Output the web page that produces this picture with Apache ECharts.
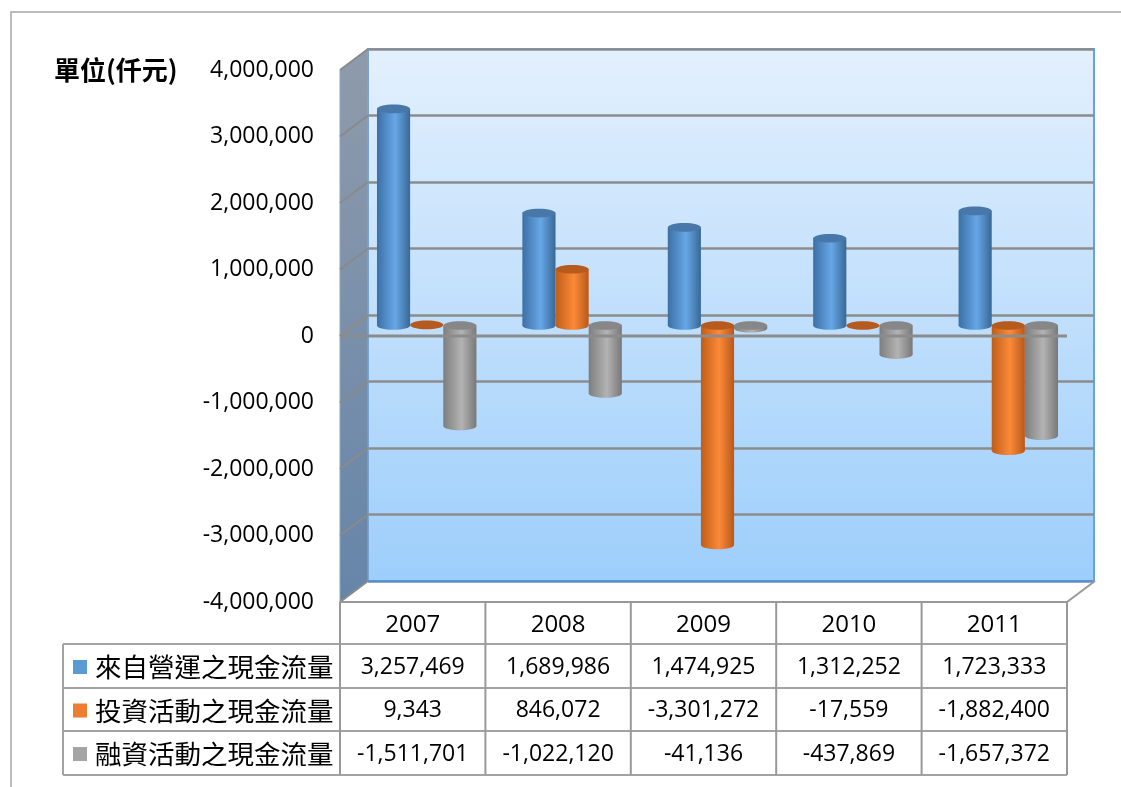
<!DOCTYPE html>
<html><head><meta charset="utf-8">
<style>html,body{margin:0;padding:0;background:#fff}#c{width:1121px;height:787px}</style>
<script src="https://cdn.jsdelivr.net/npm/echarts@6/dist/echarts.min.js"></script>
</head><body><div id="c"></div>
<script>
// ---------- data ----------
const years = ['2007', '2008', '2009', '2010', '2011'];
const seriesNames = ['來自營運之現金流量', '投資活動之現金流量', '融資活動之現金流量'];
const operating = [3257469, 1689986, 1474925, 1312252, 1723333];
const investing = [9343, 846072, -3301272, -17559, -1882400];
const financing = [-1511701, -1022120, -41136, -437869, -1657372];
const yTicks = [-4000000, -3000000, -2000000, -1000000, 0, 1000000, 2000000, 3000000, 4000000];
const unitLabel = '單位(仟元)';

// ---------- layout / style ----------
const F = { left: 340, top: 70, width: 727, height: 532 };   // front plane
const D = { dx: 28, dy: -21 };                               // depth offset
const YMIN = -4000000, YMAX = 4000000, YINT = 1000000;
const LATIN = '"Open Sans", "Noto Sans", sans-serif';
const CJK = '"Noto Sans CJK TC", "Noto Sans CJK SC", sans-serif';
const seriesColors = [
  { l: '#3c6fa6', m: '#67a7e6', r: '#386896', top: '#4878aa', key: '#5b9bd5' },
  { l: '#c05d18', m: '#fb8a38', r: '#b9581a', top: '#b65a1e', key: '#ed7d31' },
  { l: '#7e7e7e', m: '#b3b3b3', r: '#787878', top: '#878787', key: '#a5a5a5' }
];
const allSeries = [operating, investing, financing];
const fmt = v => v.toLocaleString('en-US');

const chart = echarts.init(document.getElementById('c'));

function cylRender(sIdx) {
  const c = seriesColors[sIdx];
  return function (params, api) {
    const cat = api.value(0), val = api.value(1);
    const base = api.coord([cat, 0]);
    const end = api.coord([cat, val]);
    const band = api.size([1, 0])[0];
    const w = band * 0.228;
    const cx = base[0] + (sIdx - 1) * w;
    const rx = w / 2, ry = w * 0.13;
    const yTop = Math.min(base[1], end[1]), yBot = Math.max(base[1], end[1]);
    const grad = new echarts.graphic.LinearGradient(0, 0, 1, 0, [
      { offset: 0, color: c.l }, { offset: 0.55, color: c.m }, { offset: 1, color: c.r }
    ]);
    const children = [];
    if (yBot - yTop > 1.5) {
      children.push({ type: 'ellipse', shape: { cx: cx, cy: yBot, rx: rx, ry: ry }, style: { fill: grad } });
      children.push({ type: 'rect', shape: { x: cx - rx, y: yTop, width: w, height: yBot - yTop }, style: { fill: grad } });
    }
    children.push({ type: 'ellipse', shape: { cx: cx, cy: yTop, rx: rx, ry: ry }, style: { fill: c.top } });
    return { type: 'group', children: children };
  };
}

const catAxis = (gi) => ({ type: 'category', gridIndex: gi, data: years, show: false, boundaryGap: true });
const valAxis = (gi, extra) => Object.assign({
  type: 'value', gridIndex: gi, min: YMIN, max: YMAX, interval: YINT,
  axisLine: { show: false }, axisTick: { show: false }, axisLabel: { show: false }, splitLine: { show: false }
}, extra || {});

const tableTop = F.top + F.height;
const rowEdges = [0, 42, 86, 129, 173].map(v => tableTop + v);
const colW = F.width / 5;
const labelLeft = 63;
const lineCol = '#a3a3a3';

const graphics = [];
// outer border
graphics.push({ type: 'rect', shape: { x: 11, y: 12, width: 1300, height: 900 }, style: { fill: 'none', stroke: '#a6a6a6', lineWidth: 1.5 }, z: 0 });
// side wall
graphics.push({
  type: 'polygon', z: 1,
  shape: { points: [[F.left, F.top], [F.left + D.dx, F.top + D.dy], [F.left + D.dx, F.top + F.height + D.dy], [F.left, F.top + F.height]] },
  style: { fill: new echarts.graphic.LinearGradient(0, 0, 0, 1, [{ offset: 0, color: '#8f9bab' }, { offset: 1, color: '#6585a9' }]), stroke: '#8aa4c0', lineWidth: 1 }
});
// floor right diagonal
graphics.push({ type: 'line', z: 5, shape: { x1: F.left + F.width, y1: tableTop, x2: F.left + F.width + D.dx, y2: tableTop + D.dy }, style: { stroke: '#999', lineWidth: 2 } });
// unit label
graphics.push({ type: 'text', z: 5, x: 54, y: F.top, style: { text: unitLabel, font: 'bold 26px ' + CJK, fill: '#000', verticalAlign: 'middle', align: 'left' } });
// table lines
graphics.push({ type: 'line', z: 5, shape: { x1: F.left, y1: rowEdges[0], x2: F.left + F.width, y2: rowEdges[0] }, style: { stroke: '#999', lineWidth: 2 } });
for (let i = 1; i < rowEdges.length; i++) {
  graphics.push({ type: 'line', z: 5, shape: { x1: labelLeft, y1: rowEdges[i], x2: F.left + F.width, y2: rowEdges[i] }, style: { stroke: lineCol, lineWidth: 2 } });
}
graphics.push({ type: 'line', z: 5, shape: { x1: labelLeft, y1: rowEdges[1], x2: labelLeft, y2: rowEdges[4] }, style: { stroke: lineCol, lineWidth: 2 } });
for (let i = 0; i <= 5; i++) {
  const x = F.left + i * colW;
  graphics.push({ type: 'line', z: 5, shape: { x1: x, y1: rowEdges[0], x2: x, y2: rowEdges[4] }, style: { stroke: '#999', lineWidth: 2 } });
}
// header
years.forEach((y, i) => {
  graphics.push({ type: 'text', z: 6, x: F.left + (i + 0.5) * colW, y: (rowEdges[0] + rowEdges[1]) / 2 + 2, style: { text: y, font: '24px ' + LATIN, fill: '#000', align: 'center', verticalAlign: 'middle' } });
});
// rows
allSeries.forEach((arr, r) => {
  const yc = (rowEdges[r + 1] + rowEdges[r + 2]) / 2 + 1;
  graphics.push({ type: 'rect', z: 6, shape: { x: 73, y: yc - 7, width: 14, height: 14 }, style: { fill: seriesColors[r].key } });
  graphics.push({ type: 'text', z: 6, x: 95, y: yc, style: { text: seriesNames[r], font: '26.5px ' + CJK, fill: '#000', align: 'left', verticalAlign: 'middle' } });
  arr.forEach((v, i) => {
    graphics.push({ type: 'text', z: 6, x: F.left + (i + 0.5) * colW, y: yc, style: { text: fmt(v), font: '23px ' + LATIN, fill: '#000', align: 'center', verticalAlign: 'middle' } });
  });
});

const backSplitColors = yTicks.map((v, i) => i === 0 ? '#5b8fc6' : '#8c8c8c');

chart.setOption({
  animation: false,
  backgroundColor: '#fff',
  grid: [
    { left: F.left, top: F.top, width: F.width, height: F.height },
    {
      left: F.left + D.dx, top: F.top + D.dy, width: F.width - 1, height: F.height, show: true,
      backgroundColor: new echarts.graphic.LinearGradient(0, 0, 0, 1, [{ offset: 0, color: '#e3f0fd' }, { offset: 1, color: '#9dcefb' }]),
      borderColor: '#6aa3dc', borderWidth: 2
    },
    { left: F.left + D.dx / 2, top: F.top + D.dy / 2, width: F.width, height: F.height }
  ],
  xAxis: [catAxis(0), catAxis(1), catAxis(2)],
  yAxis: [
    valAxis(0, { axisLabel: { show: true, margin: 26, fontSize: 23, fontFamily: LATIN, color: '#000', formatter: v => fmt(v), showMinLabel: true, showMaxLabel: true } }),
    valAxis(1, { splitLine: { show: true, lineStyle: { color: backSplitColors, width: 2.5 } } }),
    valAxis(2)
  ],
  graphic: graphics,
  series: [
    {
      type: 'custom', xAxisIndex: 0, yAxisIndex: 0, z: 3, silent: true,
      data: yTicks.map(v => [0, v]),
      renderItem: (params, api) => {
        const p = api.coord([0, api.value(1)]);
        const cs = params.coordSys;
        return { type: 'line', shape: { x1: cs.x, y1: p[1], x2: cs.x + D.dx, y2: p[1] + D.dy }, style: { stroke: '#8a8a8a', lineWidth: 2 } };
      }
    },
    { type: 'custom', name: seriesNames[0], xAxisIndex: 2, yAxisIndex: 2, z: 4, data: operating.map((v, i) => [i, v]), renderItem: cylRender(0) },
    { type: 'custom', name: seriesNames[1], xAxisIndex: 2, yAxisIndex: 2, z: 4, data: investing.map((v, i) => [i, v]), renderItem: cylRender(1) },
    { type: 'custom', name: seriesNames[2], xAxisIndex: 2, yAxisIndex: 2, z: 4, data: financing.map((v, i) => [i, v]), renderItem: cylRender(2) },
    {
      type: 'custom', xAxisIndex: 0, yAxisIndex: 0, z: 8, silent: true,
      data: [[0, 0]],
      renderItem: (params, api) => {
        const p = api.coord([0, 0]);
        const cs = params.coordSys;
        return {
          type: 'group', children: [
            { type: 'line', shape: { x1: cs.x, y1: p[1], x2: cs.x + cs.width, y2: p[1] }, style: { stroke: '#8c8c8c', lineWidth: 3 } },
            { type: 'line', shape: { x1: cs.x, y1: p[1], x2: cs.x + D.dx, y2: p[1] + D.dy }, style: { stroke: '#8c8c8c', lineWidth: 2.5 } }
          ]
        };
      }
    }
  ]
});
</script></body></html>
